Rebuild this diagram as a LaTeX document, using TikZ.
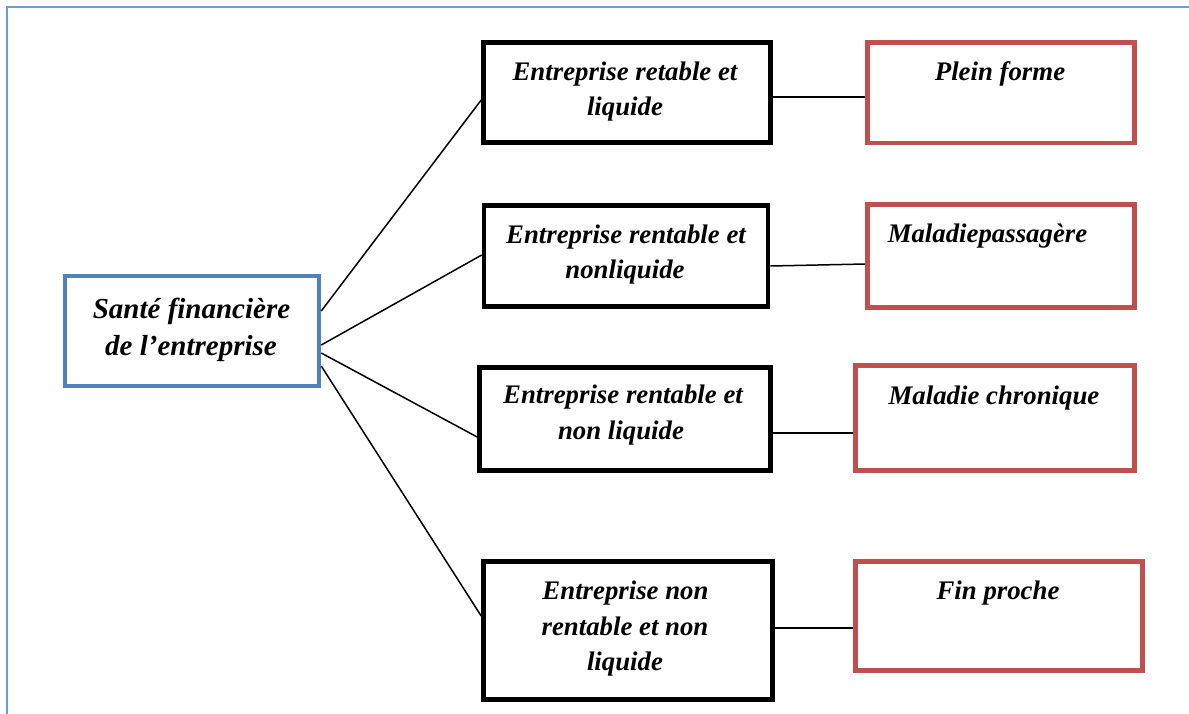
\documentclass[tikz,border=0pt]{standalone}
\usepackage{fontspec}
\setmainfont{Liberation Serif}
\definecolor{frameblue}{RGB}{112,157,218}
\definecolor{accblue}{RGB}{79,129,189}
\definecolor{accred}{RGB}{192,80,77}
\begin{document}
\begin{tikzpicture}[x=1pt,y=-1pt,
  box/.style={draw,rectangle,inner sep=0pt,fill=white},
  blackbox/.style={box,draw=black,line width=4.6pt},
  redbox/.style={box,draw=accred,line width=4.6pt},
  bluebox/.style={box,draw=accblue,line width=4.5pt},
  txt/.style={anchor=base,inner sep=0pt,font=\fontsize{26.8}{34}\selectfont\bfseries\itshape},
  bigtxt/.style={anchor=base,inner sep=0pt,font=\fontsize{29}{35}\selectfont\bfseries\itshape},
  link/.style={draw=black,line width=1.5pt}]
\useasboundingbox (0,0) rectangle (1189,713);
\clip (0,0) rectangle (1189,713);
\draw[frameblue,line width=2.2pt] (7,7) rectangle (1205,730);

% left box
\node[bluebox,minimum width=254pt,minimum height=110pt] (s) at (192,331) {};
\node[bigtxt] (s1) at (191.5,318) {Santé financière};
\node[bigtxt] (s2) at (191,355) {de l’entreprise};

% middle boxes
\node[blackbox,minimum width=287pt,minimum height=100pt] (b1) at (627,92.5) {};
\node[txt] (b1a) at (625,80) {Entreprise retable et};
\node[txt] (b1b) at (625,115.5) {liquide};

\node[blackbox,minimum width=284pt,minimum height=101pt] (b2) at (626,256) {};
\node[txt] (b2a) at (626,243) {Entreprise rentable et};
\node[txt] (b2b) at (625,278.5) {nonliquide};

\node[blackbox,minimum width=291pt,minimum height=103pt] (b3) at (625,419) {};
\node[txt] (b3a) at (623,403.5) {Entreprise rentable et};
\node[txt] (b3b) at (621,439) {non liquide};

\node[blackbox,minimum width=289pt,minimum height=138pt] (b4) at (628,630.5) {};
\node[txt] (b4a) at (625.5,599) {Entreprise non};
\node[txt] (b4b) at (625,635) {rentable et non};
\node[txt] (b4c) at (625,670) {liquide};

% right boxes
\node[redbox,minimum width=267pt,minimum height=100.5pt] (r1) at (1001,92.8) {};
\node[txt] (r1a) at (1000,80) {Plein forme};

\node[redbox,minimum width=267pt,minimum height=103.5pt] (r2) at (1001,256) {};
\node[txt] (r2a) at (987.5,242) {Maladiepassagère};

\node[redbox,minimum width=279.5pt,minimum height=105pt] (r3) at (995,418) {};
\node[txt] (r3a) at (994,404) {Maladie chronique};

\node[redbox,minimum width=287.5pt,minimum height=109pt] (r4) at (999,616) {};
\node[txt] (r4a) at (998,599.5) {Fin proche};

% connectors left
\draw[link] ([yshift=20pt]s.east) -- ([yshift=-7.5pt]b1.west);
\draw[link] ([yshift=-14pt]s.east) -- ([yshift=1pt]b2.west);
\draw[link] ([yshift=-22pt]s.east) -- ([yshift=-18pt]b3.west);
\draw[link] ([yshift=-35pt]s.east) -- ([yshift=14.5pt]b4.west);

% connectors right
\draw[link] ([yshift=-4.5pt]b1.east) -- ([yshift=-4.2pt]r1.west);
\draw[link] ([yshift=-10pt]b2.east) -- ([yshift=-8pt]r2.west);
\draw[link] ([yshift=-14pt]b3.east) -- ([yshift=-15pt]r3.west);
\draw[link] ([yshift=2.5pt]b4.east) -- ([yshift=-12pt]r4.west);
\end{tikzpicture}
\end{document}
